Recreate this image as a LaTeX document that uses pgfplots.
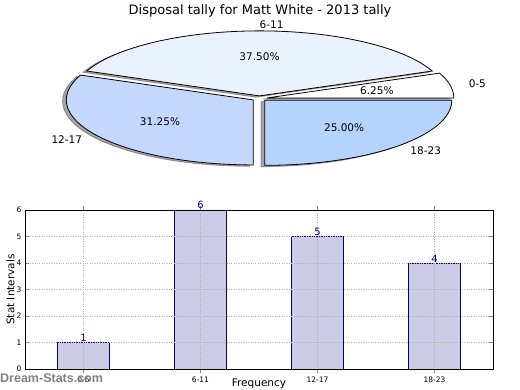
\documentclass[border=0pt]{standalone}
\usepackage{fontspec}
\setmainfont{DejaVu Sans}
\newfontfamily\wmfont{Liberation Sans}
\usepackage{pgfplots}
\usepackage{pgfplotstable}
\pgfplotsset{compat=1.18}
\definecolor{navy}{RGB}{0,0,128}
\definecolor{pieA}{RGB}{255,255,255}
\definecolor{pieB}{RGB}{234,242,255}
\definecolor{pieC}{RGB}{196,215,255}
\definecolor{pieD}{RGB}{180,212,255}
\pgfplotstableread{
label value
0-5 1
6-11 6
12-17 5
18-23 4
}\tally
\newcommand\pielabelfont{\fontsize{10.5}{12}\selectfont}
% shadow of a wedge: start, end
\newcommand\pieshadow[2]{%
  \pgfmathsetmacro\pmid{(#1+#2)/2}%
  \pgfmathsetmacro\pdx{0.04*cos(\pmid)-0.02}%
  \pgfmathsetmacro\pdy{0.04*sin(\pmid)-0.02}%
  \filldraw[fill=black!70, draw=black!70, opacity=0.5, line width=0.8pt]
    (axis cs:\pdx,\pdy) -- ++(#1:187pt and 65pt)
    arc[start angle=#1, end angle=#2, x radius=187pt, y radius=65pt] -- cycle;}
% wedge: start, end, fill, label, pct, label anchor
\newcommand\pieslice[6]{%
  \pgfmathsetmacro\pmid{(#1+#2)/2}%
  \pgfmathsetmacro\pdx{0.04*cos(\pmid)}%
  \pgfmathsetmacro\pdy{0.04*sin(\pmid)}%
  \filldraw[fill=#3, draw=black, line width=0.8pt]
    (axis cs:\pdx,\pdy) -- ++(#1:187pt and 65pt)
    arc[start angle=#1, end angle=#2, x radius=187pt, y radius=65pt] -- cycle;
  \pgfmathsetmacro\plx{\pdx+1.1*cos(\pmid)}%
  \pgfmathsetmacro\ply{\pdy+1.1*sin(\pmid)}%
  \pgfmathsetmacro\ppx{\pdx+0.6*cos(\pmid)}%
  \pgfmathsetmacro\ppy{\pdy+0.6*sin(\pmid)}%
  \node[anchor=#6, font=\pielabelfont, inner sep=0pt] at (axis cs:\plx,\ply) {#4};
  \node[font=\pielabelfont, inner sep=0pt] at (axis cs:\ppx,\ppy) {#5};}
\begin{document}
\begin{tikzpicture}
\useasboundingbox (0pt,0pt) rectangle (520pt,390pt);
\pgfplotstablegetelem{0}{value}\of\tally\pgfmathsetmacro\vA{\pgfplotsretval}
\pgfplotstablegetelem{1}{value}\of\tally\pgfmathsetmacro\vB{\pgfplotsretval}
\pgfplotstablegetelem{2}{value}\of\tally\pgfmathsetmacro\vC{\pgfplotsretval}
\pgfplotstablegetelem{3}{value}\of\tally\pgfmathsetmacro\vD{\pgfplotsretval}
\pgfmathsetmacro\tot{\vA+\vB+\vC+\vD}
\pgfmathsetmacro\aA{0}
\pgfmathsetmacro\aB{360*\vA/\tot}
\pgfmathsetmacro\aC{\aB+360*\vB/\tot}
\pgfmathsetmacro\aD{\aC+360*\vC/\tot}
\pgfmathsetmacro\aE{\aD+360*\vD/\tot}
% ---------- pie ----------
\begin{axis}[at={(259.5pt,291.5pt)}, anchor=center, scale only axis,
  width=374pt, height=130pt, xmin=-1, xmax=1, ymin=-1, ymax=1,
  hide axis, clip=false]
\pgfplotsextra{%
  \pieshadow{\aA}{\aB}\pieshadow{\aB}{\aC}\pieshadow{\aC}{\aD}\pieshadow{\aD}{\aE}%
  \pieslice{\aA}{\aB}{pieA}{0-5}{6.25\%}{west}%
  \pieslice{\aB}{\aC}{pieB}{6-11}{37.50\%}{west}%
  \pieslice{\aC}{\aD}{pieC}{12-17}{31.25\%}{east}%
  \pieslice{\aD}{\aE}{pieD}{18-23}{25.00\%}{west}%
  \node[font=\fontsize{13}{15}\selectfont] at (axis cs:0.003,1.354) {Disposal tally for Matt White - 2013 tally};
}
\end{axis}
% ---------- bars ----------
\begin{axis}[at={(25pt,21pt)}, anchor=south west, scale only axis,
  width=468pt, height=159pt,
  xmin=-0.5, xmax=3.5, ymin=0, ymax=6,
  xtick={0,1,2,3}, xticklabels={0-5,6-11,12-17,18-23},
  ytick={0,1,2,3,4,5,6},
  /pgf/number format/assume math mode=true,
  tick label style={font=\fontsize{7.5}{9}\selectfont},
  ylabel={Stat Intervals}, xlabel={Frequency},
  ylabel style={font=\fontsize{10.5}{12}\selectfont, at={(ticklabel* cs:0.5)}, anchor=south, yshift=7pt},
  xlabel style={font=\fontsize{10.5}{12}\selectfont, at={(axis description cs:0.5,0)}, anchor=base, yshift=-18pt},
  grid=major, grid style={dotted, black!30, line width=0.7pt},
  axis on top, tick align=inside, major tick length=4pt,
  axis line style={line width=0.8pt},
  ybar, bar width=0.45,
  nodes near coords,
  nodes near coords style={font=\fontsize{10}{12}\selectfont, text=navy, inner sep=0.5pt, anchor=south},
]
\addplot[fill=navy!20, draw=navy, line width=0.8pt] table[x expr=\coordindex, y=value]{\tally};
\end{axis}
\node[anchor=base west, inner sep=0pt, font=\wmfont\bfseries\fontsize{12.5}{14}\selectfont, text=black!50] at (0pt,7pt) {Dream-Stats.com};
\end{tikzpicture}
\end{document}
